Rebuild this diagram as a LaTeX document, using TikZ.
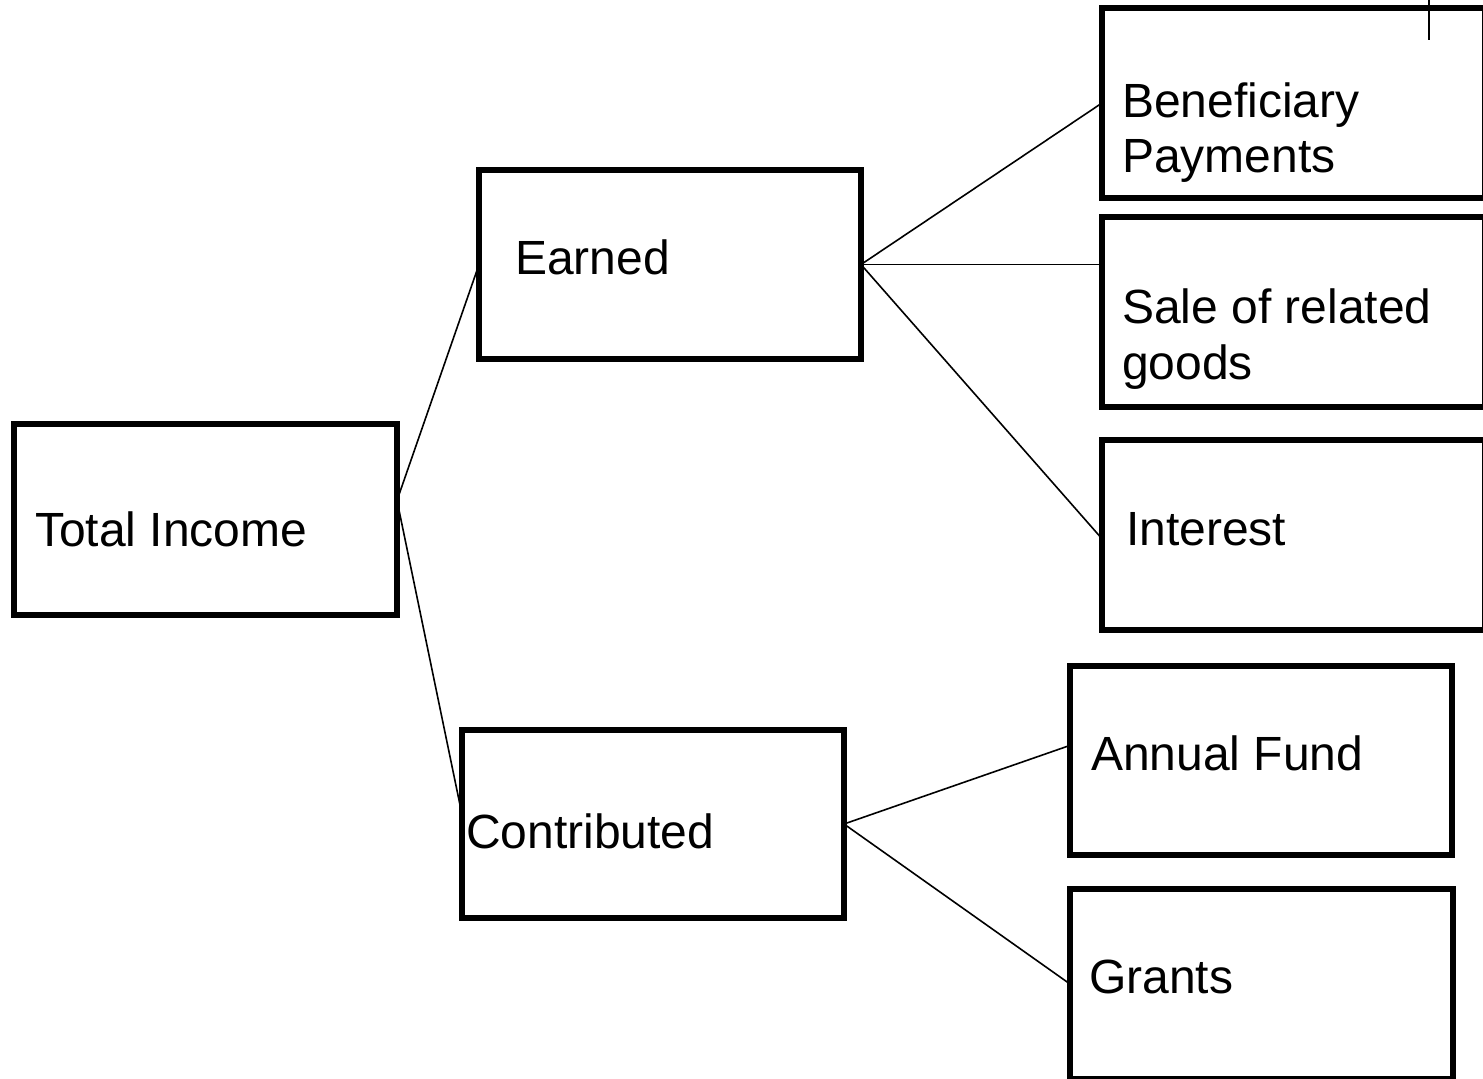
\documentclass[tikz,border=0pt]{standalone}
\usepackage{fontspec}
\setmainfont{Liberation Sans}
\usetikzlibrary{calc}
\begin{document}
\begin{tikzpicture}[x=0.5pt,y=-0.5pt,
  box/.style={draw=black, line width=2.6pt, rectangle, outer sep=0pt, inner sep=0pt},
  lbl/.style={anchor=base west, inner sep=0pt, outer sep=0pt, font=\fontsize{24}{28}\selectfont},
  conn/.style={draw=black, line width=0.8pt}]
\fill[white] (0,0) rectangle (1483,1078);
\clip (0,0) rectangle (1483,1078);
% boxes
\node[box, minimum width=191.5pt, minimum height=95.5pt] (ti) at (205.5,519.5) {};
\node[box, minimum width=191pt, minimum height=94.5pt] (earned) at (670,264.5) {};
\node[box, minimum width=191pt, minimum height=94pt] (contrib) at (653,824) {};
\node[box, minimum width=191.5pt, minimum height=95pt] (benef) at (1293.5,103) {};
\node[box, minimum width=191.5pt, minimum height=95pt] (sale) at (1293.5,312) {};
\node[box, minimum width=191.5pt, minimum height=95pt] (interest) at (1293.5,535) {};
\node[box, minimum width=191pt, minimum height=94.5pt] (annual) at (1261,760.5) {};
\node[box, minimum width=191.5pt, minimum height=95pt] (grants) at (1261.5,984) {};
% labels
\node[lbl] (tTI) at (35,546) {Total Income};
\node[lbl] (tEarned) at (515,274) {Earned};
\node[lbl] (tContrib) at (466,848) {Contributed};
\node[lbl] (tBenef1) at (1122,117) {Beneficiary};
\node[lbl] (tBenef2) at (1122,172) {Payments};
\node[lbl] (tSale1) at (1122,323) {Sale of related};
\node[lbl] (tSale2) at (1122,379) {goods};
\node[lbl] (tInterest) at (1126,545) {Interest};
\node[lbl] (tAnnual) at (1091,770) {Annual Fund};
\node[lbl] (tGrants) at (1089,993) {Grants};
% connectors
\coordinate (tiR) at ($(ti.north east)!0.4!(ti.south east)$);
\draw[conn] (tiR) -- (earned.west);
\draw[conn] (tiR) -- ($(contrib.north west)!0.45!(contrib.south west)$);
\draw[conn] (earned.east) -- (benef.west);
\draw[conn] (earned.east) -- ($(sale.north west)!0.25!(sale.south west)$);
\draw[conn] (earned.east) -- ($(interest.north west)!0.52!(interest.south west)$);
\draw[conn] (contrib.east) -- ($(annual.north west)!0.42!(annual.south west)$);
\draw[conn] (contrib.east) -- (grants.west);
% stray mark at top right
\draw[line width=1pt] (1429,0) -- (1429,40);
\end{tikzpicture}
\end{document}
